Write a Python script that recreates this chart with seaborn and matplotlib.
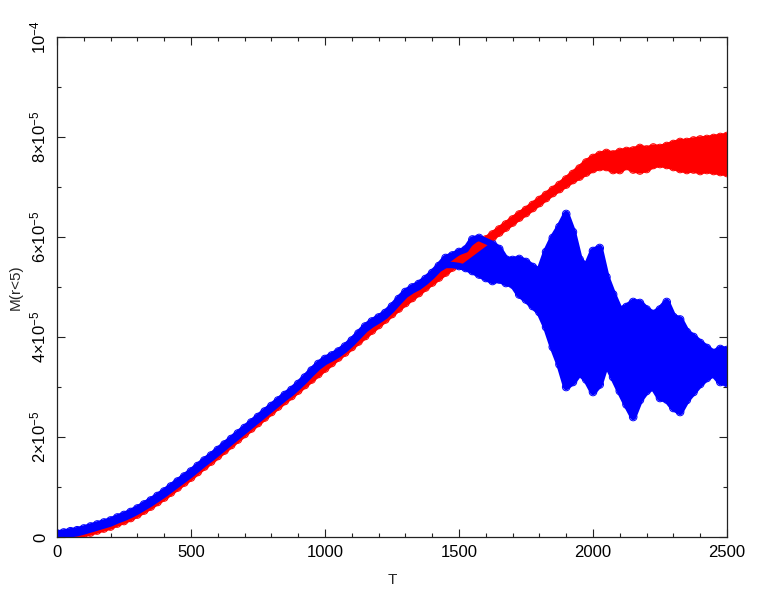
import numpy as np
import pandas as pd
import matplotlib
matplotlib.use("Agg")
import matplotlib.pyplot as plt
import seaborn as sns
from matplotlib.ticker import MultipleLocator

# time axis, one sample every 25 T
t = np.arange(0, 2501, 25)

# band edges, in units of 1e-6
red_hi = [
    0.5, 0.6, 0.75, 0.95, 1.2, 1.5, 1.9, 2.3,
    2.7, 3.3, 3.8, 4.4, 5.1, 5.9, 6.7, 7.6,
    8.5, 9.5, 10.5, 11.5, 12.5, 13.6, 14.7, 15.7,
    16.8, 17.9, 19.0, 20.1, 21.2, 22.3, 23.4, 24.5,
    25.6, 26.7, 27.8, 28.8, 29.9, 31.0, 32.1, 33.2,
    34.3, 35.4, 36.5, 37.5, 38.6, 39.7, 40.8, 41.9,
    43.0, 44.1, 45.2, 46.3, 47.4, 48.4, 49.4, 50.5,
    51.5, 52.5, 53.5, 54.5, 55.5, 56.5, 57.5, 58.5,
    59.5, 60.5, 61.5, 62.5, 63.5, 64.5, 65.4, 66.4,
    67.4, 68.4, 69.4,
    70.4, 71.5, 72.6, 73.7, 74.9,
    75.8, 76.4, 76.8, 76.5, 77.0, 77.2, 77.3, 77.8, 77.5, 77.9, 77.8,
    78.2, 78.6, 79.0, 79.0, 79.3, 79.5, 79.6, 79.8, 80.0, 80.2,
]
red_lo = [
    0.0, 0.05, 0.15, 0.35, 0.6, 0.9, 1.3, 1.7,
    2.1, 2.7, 3.2, 3.8, 4.5, 5.3, 6.1, 7.0,
    7.9, 8.9, 9.9, 10.9, 11.9, 13.0, 14.1, 15.1,
    16.2, 17.3, 18.4, 19.5, 20.6, 21.7, 22.8, 23.9,
    25.0, 26.1, 27.2, 28.2, 29.3, 30.4, 31.5, 32.6,
    33.7, 34.8, 35.9, 36.9, 38.0, 39.1, 40.2, 41.3,
    42.4, 43.5, 44.6, 45.7, 46.8, 47.8, 48.8, 49.9,
    50.9, 51.9, 52.9, 53.9, 54.9, 55.9, 56.9, 57.9,
    58.9, 59.9, 60.9, 61.9, 62.9, 63.9, 64.8, 65.8,
    66.8, 67.8, 68.8,
    69.6, 70.5, 71.4, 72.1, 72.9,
    73.6, 74.0, 74.0, 73.4, 73.4, 74.2, 73.5, 73.3, 73.6, 74.4, 74.6,
    74.4, 74.0, 73.6, 73.4, 73.5, 73.2, 73.4, 73.2, 73.0, 72.8,
]
blue_hi = [
    0.7, 0.9, 1.15, 1.35, 1.7, 2.1, 2.5, 2.9,
    3.3, 3.9, 4.4, 5.0, 5.7, 6.5, 7.3, 8.2,
    9.1, 10.1, 11.1, 12.1, 13.1, 14.2, 15.3, 16.3,
    17.4, 18.5, 19.6, 20.7, 21.8, 22.9, 24.0, 25.1,
    26.2, 27.3, 28.4, 29.4, 30.6, 31.9, 33.3, 34.6,
    35.6, 36.3, 37.1, 38.1, 39.3, 40.7, 42.1, 43.1,
    43.9, 44.8, 46.1, 47.6, 49.0, 49.9, 50.6, 51.6,
    52.8, 54.2,
    55.8, 56.3, 57.0, 57.5, 59.5, 59.8, 59.2, 58.6, 57.6, 55.5,
    55.4, 55.6, 55.0, 54.0, 53.2, 57.0, 59.8, 62.0, 64.6, 61.0,
    55.5, 54.0, 57.2, 57.8, 52.0, 48.5, 45.4, 46.0, 47.0, 46.8,
    45.5, 44.6, 45.5, 47.0, 44.0, 43.5, 41.0, 40.0, 38.8, 37.8,
    36.8, 37.6, 37.4,
]
blue_lo = [
    0.1, 0.3, 0.55, 0.75, 1.1, 1.5, 1.9, 2.3,
    2.7, 3.3, 3.8, 4.4, 5.1, 5.9, 6.7, 7.6,
    8.5, 9.5, 10.5, 11.5, 12.5, 13.6, 14.7, 15.7,
    16.8, 17.9, 19.0, 20.1, 21.2, 22.3, 23.4, 24.5,
    25.6, 26.7, 27.8, 28.8, 30.0, 31.3, 32.7, 34.0,
    35.0, 35.7, 36.5, 37.5, 38.7, 40.1, 41.5, 42.5,
    43.3, 44.2, 45.5, 47.0, 48.4, 49.3, 50.0, 51.0,
    52.2, 53.6,
    54.4, 54.4, 54.2, 53.8, 53.2, 52.5, 51.8, 51.2, 51.5, 50.8,
    50.5, 48.5, 47.5, 46.2, 45.0, 42.0, 38.0, 34.5, 30.0, 31.0,
    32.8, 31.5, 29.0, 30.5, 34.8, 32.0, 29.2, 26.5, 24.0, 27.4,
    29.2, 30.0, 27.8, 27.5, 25.8, 25.0, 27.4, 29.0, 30.6, 31.8,
    32.6, 31.0, 30.8,
]
UNIT = 1e-6

x_ticks = [0, 500, 1000, 1500, 2000, 2500]
y_ticks = [0, 2e-5, 4e-5, 6e-5, 8e-5, 1e-4]
y_tick_labels = ["0", r"$2{\times}10^{-5}$", r"$4{\times}10^{-5}$",
                 r"$6{\times}10^{-5}$", r"$8{\times}10^{-5}$", r"$10^{-4}$"]

for arr in (red_hi, red_lo, blue_hi, blue_lo):
    assert len(arr) == len(t)

sns.set_theme(style="ticks")
plt.rcParams["font.family"] = ["Liberation Sans", "DejaVu Sans"]
plt.rcParams["mathtext.fontset"] = "custom"
plt.rcParams["mathtext.rm"] = "Liberation Sans"
plt.rcParams["mathtext.it"] = "Liberation Sans:italic"

fig = plt.figure(figsize=(7.67, 6.0), dpi=100)
ax = fig.add_axes([57 / 767, 63 / 600, 670 / 767, 500 / 600])


def draw_band(hi, lo, color):
    hi = np.asarray(hi) * UNIT
    lo = np.asarray(lo) * UNIT
    ax.fill_between(t, lo, hi, color=color, lw=0)
    # thick edge strokes stand in for the heaps of overlapping circles
    for edge in (hi, lo):
        sns.lineplot(x=t, y=edge, ax=ax, color=color, lw=4.6,
                     solid_capstyle="round", solid_joinstyle="round")
    edges = pd.DataFrame({"T": np.concatenate([t, t]),
                          "M": np.concatenate([hi, lo])})
    sns.scatterplot(data=edges, x="T", y="M", ax=ax, marker="o",
                    s=30, facecolors="none", edgecolor=color,
                    linewidth=0.7, legend=False)


draw_band(red_hi, red_lo, "#ff0000")
draw_band(blue_hi, blue_lo, "#0000ff")

ax.set_xlim(0, 2500)
ax.set_ylim(0, 1e-4)
ax.set_xticks(x_ticks)
ax.set_xticklabels([str(v) for v in x_ticks])
ax.xaxis.set_minor_locator(MultipleLocator(100))
ax.set_yticks(y_ticks)
ax.set_yticklabels(y_tick_labels, rotation=90, va="center")
ax.yaxis.set_minor_locator(MultipleLocator(1e-5))
ax.tick_params(which="both", direction="in", top=True, right=True,
               colors="#222222", labelcolor="black", labelsize=12, width=0.8)
ax.tick_params(which="major", length=6)
ax.tick_params(which="minor", length=3)
ax.tick_params(axis="x", pad=6)
ax.tick_params(axis="y", pad=6)
for spine in ax.spines.values():
    spine.set_linewidth(0.9)
    spine.set_color("#222222")
ax.set_xlabel("T", fontsize=11, labelpad=9)
ax.set_ylabel("M(r<5)", fontsize=11, labelpad=4)

fig.savefig("out.png", dpi=100)
